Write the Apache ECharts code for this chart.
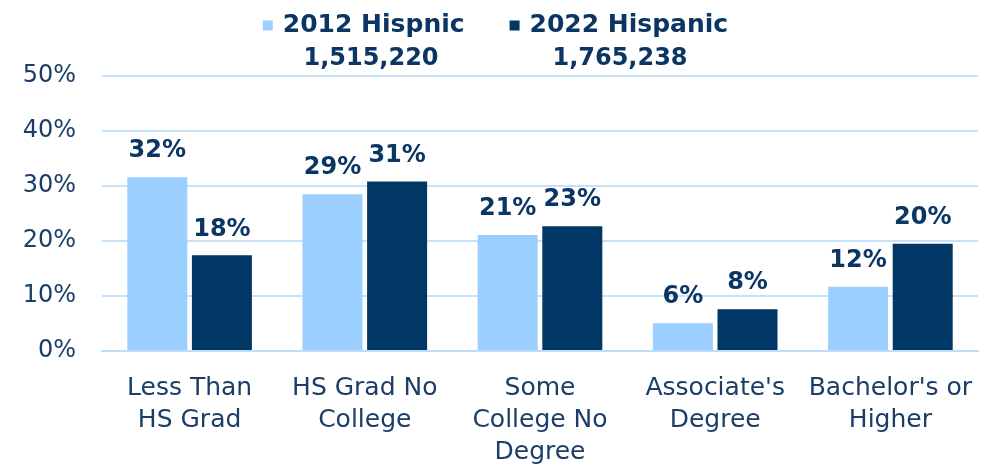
<!DOCTYPE html>
<html>
<head>
<meta charset="utf-8">
<script src="https://cdn.jsdelivr.net/npm/echarts@6/dist/echarts.min.js"></script>
<style>
html,body{margin:0;padding:0;background:#fff;}
#chart{width:991px;height:468px;}
</style>
</head>
<body>
<div id="chart"></div>
<script>
var categories = ["Less Than\nHS Grad", "HS Grad No\nCollege", "Some\nCollege No\nDegree", "Associate's\nDegree", "Bachelor's or\nHigher"];
var seriesNames = ["2012 Hispnic", "2022 Hispanic"];
var seriesTotals = ["1,515,220", "1,765,238"];
var values2012 = [31.6, 28.5, 21.1, 5.05, 11.7];
var values2022 = [17.4, 30.8, 22.7, 7.6, 19.5];
var labels2012 = ["32%", "29%", "21%", "6%", "12%"];
var labels2022 = ["18%", "31%", "23%", "8%", "20%"];
var yTicks = [0, 10, 20, 30, 40, 50];

var chart = echarts.init(document.getElementById('chart'));
var navy = '#0B3563';
var labelFont = {fontFamily: '"DejaVu Sans"', fontWeight: 'bold', fontSize: 24, color: navy};

function barSeries(name, data, labels, color) {
  return {
    name: name,
    type: 'bar',
    data: data,
    barWidth: 60,
    barGap: '7.7%',
    itemStyle: {color: color},
    label: Object.assign({
      show: true,
      position: 'top',
      distance: 14,
      formatter: function (p) { return labels[p.dataIndex]; }
    }, labelFont),
    emphasis: {disabled: true}
  };
}

chart.setOption({
  animation: false,
  backgroundColor: '#ffffff',
  grid: {left: 102, right: 13, top: 76, bottom: 115},
  legend: {
    data: seriesNames,
    left: 'center',
    top: 8,
    icon: 'rect',
    itemWidth: 10,
    itemHeight: 10,
    itemGap: 45,
    textStyle: {fontFamily: '"DejaVu Sans"', fontWeight: 'bold', fontSize: 25, color: navy, padding: [0, 0, 0, 5]}
  },
  graphic: [
    {type: 'text', x: 371, y: 59, style: {text: seriesTotals[0], font: 'bold 24px "DejaVu Sans"', fill: navy, textAlign: 'center', textVerticalAlign: 'middle'}},
    {type: 'text', x: 620, y: 59, style: {text: seriesTotals[1], font: 'bold 24px "DejaVu Sans"', fill: navy, textAlign: 'center', textVerticalAlign: 'middle'}}
  ],
  xAxis: {
    type: 'category',
    data: categories,
    z: 5,
    axisLine: {show: true, lineStyle: {color: '#BFDDF8', width: 2}},
    axisTick: {show: false},
    axisLabel: {
      interval: 0,
      margin: 21,
      fontFamily: '"DejaVu Sans"',
      fontSize: 25,
      lineHeight: 32,
      color: '#1C3D67'
    }
  },
  yAxis: {
    type: 'value',
    min: 0,
    max: 50,
    interval: 10,
    axisLine: {show: false},
    axisTick: {show: false},
    splitLine: {lineStyle: {color: '#C6E2FB', width: 2}},
    axisLabel: {
      margin: 26,
      fontFamily: '"DejaVu Sans"',
      fontSize: 24,
      color: '#1C3D67',
      formatter: function (v) { return yTicks.indexOf(v) >= 0 ? v + '%' : ''; }
    }
  },
  series: [
    barSeries(seriesNames[0], values2012, labels2012, '#9BCFFF'),
    barSeries(seriesNames[1], values2022, labels2022, '#003764')
  ]
});
</script>
</body>
</html>
